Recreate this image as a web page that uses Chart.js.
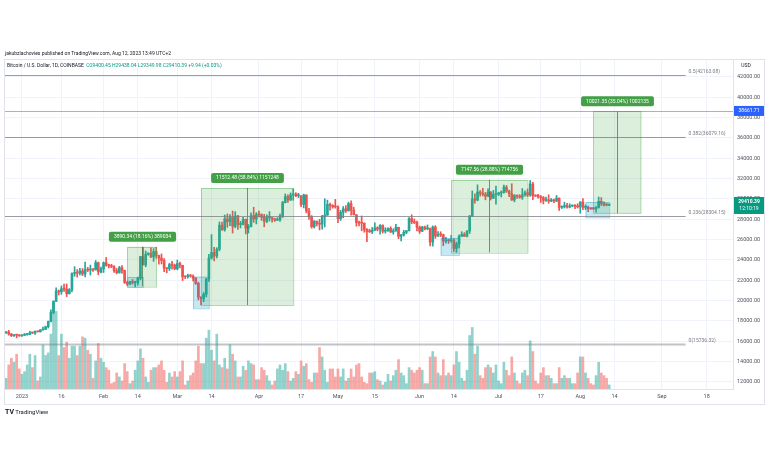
<!DOCTYPE html>
<html>
<head>
<meta charset="utf-8">
<script src="https://cdn.jsdelivr.net/npm/chart.js@4.4.0/dist/chart.umd.min.js"></script>
<style>
body{margin:0;background:#fff;}
#wrap{position:relative;width:768px;height:463px;font-family:Roboto,"Open Sans",sans-serif;color:#131722;}
#wrap canvas{position:absolute;left:0;top:0;}
.txt{position:absolute;white-space:nowrap;font-size:5px;line-height:6px;}
</style>
</head>
<body>
<div id="wrap">
	<canvas id="btcChart" width="768" height="463"></canvas>
	<div class="txt" style="left:5px;top:50px;">jakubzlachovies published on TradingView.com, Aug 12, 2023 13:49 UTC+2</div>
	<div class="txt" style="left:7px;top:62px;">Bitcoin / U.S. Dollar, 1D, COINBASE &nbsp;<span style="color:#089981">O29400.45 H29438.04 L29349.98 C29410.39 +9.94 (+0.03%)</span></div>
	<div class="txt" style="left:5px;top:408px;font-size:6px;line-height:7px;"><b style="font-size:7px;">TV</b> TradingView</div>
</div>
<script>
"use strict";

// day 0 = Jan 1 2023, first candle is Dec 26 2022
var firstDay = -6;

var opens = [
	16840,16920,16710,16550,16640,16610,
	16540,16610,16670,16670,16850,16830,16950,16940,17120,17180,17440,17940,18850,19930,20950,20870,21170,21130,20680,21070,22670,22780,22710,22920,22630,23060,23010,23080,23030,23740,22830,
	23130,23730,23490,23430,23330,22940,22760,23250,22960,21800,21630,21860,21780,21780,22200,24330,23520,24570,24640,24300,24840,24440,24190,23950,23190,23160,23560,23490,
	23140,23650,23480,22360,22350,22430,22410,22200,21710,20360,20190,20630,22140,24200,24740,24380,25060,27420,26970,28040,27770,28170,27310,28330,27490,27490,28000,27140,27270,28360,28030,
	28480,28450,28200,27800,28170,28170,28040,27920,27950,28330,29650,30240,29890,30400,30490,30320,30320,29450,30400,28820,28250,27270,27820,27590,27520,28310,28420,29470,29340,29240,
	29230,28070,28680,29030,28850,29540,28900,28450,27690,27630,27620,26990,26800,26780,26930,27170,27030,27400,26830,26890,27120,26750,26850,27220,26330,26470,26720,26870,28080,27750,27700,
	27220,26820,27250,27070,27120,25760,27240,26350,26500,26480,25850,25940,25900,25920,25130,25590,26340,26520,26340,26840,28310,30000,29890,30690,30550,30470,30270,30690,30080,30450,
	30470,30590,30620,31160,30770,30510,29900,30350,30290,30170,30410,30620,30390,31470,30310,30290,30240,30140,29860,29910,29800,29910,29800,30080,29180,29230,29350,29210,29310,29350,29280,
	29230,29700,29180,29180,29070,29050,29040,29180,29770,29570,29430,29400.45
];
var highs = [
	16950,17090,16780,16660,16650,16650,
	16630,16760,16780,17000,16880,17040,16970,17170,17400,17490,18000,19100,19990,21260,21050,21450,21620,21650,21190,22740,23340,23060,23170,23160,23800,23270,23500,23160,23950,23800,23310,
	23810,24250,23590,23580,23440,23160,23370,23450,23010,21920,21900,22090,21890,22320,24370,25250,24890,24720,25200,25120,25250,24480,24600,24140,23220,23680,23880,23600,
	23990,23790,23480,22410,22620,22580,22540,22270,21820,20370,20800,22180,24560,26500,25240,25210,27740,27720,28420,28530,28470,28820,28750,28390,27800,28200,28030,27490,28650,29190,28660,
	28820,28540,28490,28450,28760,28190,28110,28170,28520,29770,30500,30410,30600,31000,30620,30560,30320,30480,30410,29090,28370,27880,27830,28000,28390,30020,29890,29600,29440,29960,
	29330,28880,29260,29360,29680,29830,29190,28470,27820,28330,27650,27080,27030,27200,27660,27270,27480,27470,27180,27160,27280,27060,27500,27220,26530,26930,26900,28180,28450,28040,27840,
	27350,27310,27330,27450,27130,27350,27380,26800,26780,26540,26220,26020,26420,26070,25750,26480,26780,26690,26900,28400,30800,30500,31390,30820,31050,30650,31000,30710,30840,31280,
	30660,30790,31380,31330,30880,31500,30440,30380,30430,31030,30800,30980,31820,31640,30400,30450,30340,30240,30190,30410,30050,29990,30350,30110,29330,29690,29580,29530,29410,29450,29530,
	29740,30050,29410,29310,29110,29170,29250,30200,30140,29710,29540,29438.04
];
var lows = [
	16780,16600,16470,16490,16340,16490,
	16490,16550,16600,16650,16750,16670,16910,16910,17100,17150,17310,17900,18720,19900,20560,20630,20900,20400,20660,20870,22400,22320,22520,22460,22330,22860,22520,22880,23010,22540,22720,
	22770,23380,23220,23240,22780,22630,22700,22680,21690,21480,21600,21630,21350,21540,22050,23510,23330,24460,24240,23860,24160,23600,23610,22850,22740,22960,23100,23040,
	23030,23210,21980,22170,22220,22320,21940,21600,20070,19570,19900,20370,21900,24080,23900,24200,24900,26900,26830,27220,27380,26650,27160,27000,27150,27440,26560,26650,27250,27700,27550,
	28240,27890,27270,27670,27830,27720,27790,27880,27800,28170,29610,29670,29870,29880,30230,30140,29250,29120,28640,28000,27130,27140,27350,26960,27030,27250,28380,28900,29100,29100,
	27680,27890,28150,28670,28800,28400,28430,27330,27360,26870,26730,25810,26700,26600,26880,26860,26550,26650,26640,26820,26700,26540,26830,26100,25870,26350,26580,26850,27560,27570,26850,
	26610,26800,26960,26970,25390,25360,26130,26310,26300,25410,25650,25630,25740,24850,24750,25180,26300,26290,26260,26600,28270,29580,29820,30270,30290,29920,30230,29900,30050,29500,
	30330,30200,30570,30650,30220,29860,29720,30050,30070,29960,30290,30220,30260,29940,30250,30070,29660,29520,29760,29580,29730,29640,29740,28870,29060,29110,29090,29130,29260,29040,29110,
	28600,28950,28970,28750,28970,28950,28700,29110,29350,29330,29330,29349.98
];
var closes = [
	16920,16710,16550,16640,16610,16540,
	16610,16670,16670,16850,16830,16950,16940,17120,17180,17440,17940,18850,19930,20950,20870,21170,21130,20680,21070,22670,22780,22710,22920,22630,23060,23010,23080,23030,23740,22830,23130,
	23730,23490,23430,23330,22940,22760,23250,22960,21800,21630,21860,21780,21780,22200,24330,23520,24570,24640,24300,24840,24440,24190,23950,23190,23160,23560,23490,23140,
	23650,23480,22360,22350,22430,22410,22200,21710,20360,20190,20630,22140,24200,24740,24380,25060,27420,26970,28040,27770,28170,27310,28330,27490,27490,28000,27140,27270,28360,28030,28480,
	28450,28200,27800,28170,28170,28040,27920,27950,28330,29650,30240,29890,30400,30490,30320,30320,29450,30400,28820,28250,27270,27820,27590,27520,28310,28420,29470,29340,29240,29230,
	28070,28680,29030,28850,29540,28900,28450,27690,27630,27620,26990,26800,26780,26930,27170,27030,27400,26830,26890,27120,26750,26850,27220,26330,26470,26720,26870,28080,27750,27700,27220,
	26820,27250,27070,27120,25760,27240,26350,26500,26480,25850,25940,25900,25920,25130,25590,26340,26520,26340,26840,28310,30000,29890,30690,30550,30470,30270,30690,30080,30450,30470,
	30590,30620,31160,30770,30510,29900,30350,30290,30170,30410,30620,30390,31470,30310,30290,30240,30140,29860,29910,29800,29910,29800,30080,29180,29230,29350,29210,29310,29350,29280,29230,
	29700,29180,29180,29070,29050,29040,29180,29770,29570,29430,29400,29410.39
];
// volume in thousand BTC
var volumes = [
	8,18,23,20,26,15,
	11,13,18,26,16,25,6,9,33,25,
	27,41,65,58,25,41,31,35,23,32,
	32,25,32,39,38,29,26,8,21,34,
	23,20,16,14,4,5,12,9,6,19,
	13,4,6,14,21,30,23,9,5,14,
	16,16,18,21,14,5,12,9,13,9,
	13,21,3,6,10,12,
	21,32,19,19,38,44,29,21,41,18,
	16,23,15,33,26,21,9,9,17,14,
	21,19,18,7,7,16,14,10,6,3,
	6,15,18,14,19,13,6,8,13,11,
	21,17,19,7,5,12,12,31,24,14,
	5,15,15,9,15,9,15,6,8,15,
	9,18,19,9,5,4,12,12,13,7,
	6,3,5,11,
	6,10,14,22,12,10,4,16,14,12,
	14,16,14,4,4,24,28,24,12,10,
	22,10,12,10,18,28,20,8,6,14,
	40,46,26,32,10,8,16,18,16,12,
	18,6,4,20,14,10,24,12,6,4,
	12,14,10,36,28,6,4,12,16,10,
	10,8,4,4,16,8,10,8,8,4,
	4,12,24,24,12,8,4,3,10,20,
	12,10,8,3
];

var tickDays = [0,15,31,44,59,72,90,106,120,134,151,164,181,197,212,225,243,260];
var tickLabels = ['2023','16','Feb','14','Mar','14','Apr','17','May','15','Jun','14','Jul','17','Aug','14','Sep','18'];
var priceTicks = [12000,14000,16000,18000,20000,22000,24000,26000,28000,30000,32000,34000,36000,38000,40000,42000];

var fibLevels = ['0','0.236','0.382','0.5'];
var fibPrices = [15736.32,28304.15,36079.16,42163.08];

// date & price range drawings
var rangeStart = [40,68,163,217];
var rangeEnd = [51,103,192,235];
var rangeLow = [21422,19565,24749,28600];
var rangeHigh = [25312.34,31077.48,31896.56,38621.35];
var rangeLabels = ['3890.34 (18.16%) 389034','11512.48 (58.84%) 1151248','7147.56 (28.88%) 714756','10021.35 (35.04%) 1002135'];

// small highlighted rectangles
var markStart = [40,65,159,214];
var markEnd = [46,71,166,223];
var markLow = [21350,19250,24490,28200];
var markHigh = [22330,22360,26160,29700];

var alertPrice = 38661.71;
var lastPrice = 29410.39;
var countdown = '12:10:19';

var UP = '#26a69a', DOWN = '#ef5350';
var FONT = 'Roboto, "Open Sans", sans-serif';

var bodies = [], wicks = [], vols = [], candleColors = [], volColors = [];
for (var i = 0; i < closes.length; i++) {
	var d = firstDay + i;
	var up = closes[i] >= opens[i];
	bodies.push({x: d, y: [opens[i], closes[i]]});
	wicks.push({x: d, y: [lows[i], highs[i]]});
	vols.push({x: d, y: volumes[i]});
	candleColors.push(up ? UP : DOWN);
	volColors.push(up ? 'rgba(38,166,154,0.5)' : 'rgba(239,83,80,0.5)');
}

var drawingsPlugin = {
	id: 'drawings',
	afterDatasetsDraw: function (chart) {
		var ctx = chart.ctx, xs = chart.scales.x, ys = chart.scales.y, a = chart.chartArea;
		ctx.save();
		ctx.beginPath();
		ctx.rect(a.left, a.top, a.right - a.left, a.bottom - a.top);
		ctx.clip();

		// blue marks
		for (var i = 0; i < markStart.length; i++) {
			var x1 = xs.getPixelForValue(markStart[i]), x2 = xs.getPixelForValue(markEnd[i]);
			var y1 = ys.getPixelForValue(markHigh[i]), y2 = ys.getPixelForValue(markLow[i]);
			ctx.fillStyle = 'rgba(0,151,200,0.22)';
			ctx.fillRect(x1, y1, x2 - x1, y2 - y1);
			ctx.strokeStyle = 'rgba(0,151,200,0.35)';
			ctx.lineWidth = 1;
			ctx.strokeRect(x1 + 0.5, y1 + 0.5, x2 - x1, y2 - y1);
		}

		// green ranges
		ctx.font = '5px ' + FONT;
		ctx.textAlign = 'center';
		ctx.textBaseline = 'middle';
		for (var j = 0; j < rangeStart.length; j++) {
			var rx1 = xs.getPixelForValue(rangeStart[j]), rx2 = xs.getPixelForValue(rangeEnd[j]);
			var ry1 = ys.getPixelForValue(rangeHigh[j]), ry2 = ys.getPixelForValue(rangeLow[j]);
			ctx.fillStyle = 'rgba(76,175,80,0.2)';
			ctx.fillRect(rx1, ry1, rx2 - rx1, ry2 - ry1);
			ctx.strokeStyle = 'rgba(76,175,80,0.45)';
			ctx.lineWidth = 1;
			ctx.strokeRect(Math.round(rx1) + 0.5, Math.round(ry1) + 0.5, rx2 - rx1, ry2 - ry1);
			var cx = Math.round((rx1 + rx2) / 2) + 0.5;
			ctx.strokeStyle = 'rgba(60,110,70,0.7)';
			ctx.beginPath();
			ctx.moveTo(cx, ry1);
			ctx.lineTo(cx, ry2);
			ctx.stroke();

			var tw = ctx.measureText(rangeLabels[j]).width + 10;
			ctx.fillStyle = '#43a047';
			ctx.beginPath();
			ctx.roundRect(cx - tw / 2, ry1 - 15, tw, 10, 2);
			ctx.fill();
			ctx.fillStyle = '#fff';
			ctx.fillText(rangeLabels[j], cx, ry1 - 10);
		}
		ctx.restore();

		// fib levels
		ctx.save();
		var fibEnd = xs.getPixelForValue(252);
		ctx.font = '5px ' + FONT;
		ctx.textAlign = 'left';
		ctx.textBaseline = 'middle';
		for (var k = 0; k < fibPrices.length; k++) {
			var fy = Math.round(ys.getPixelForValue(fibPrices[k])) + 0.5;
			ctx.strokeStyle = k == 0 ? 'rgba(120,123,134,0.45)' : 'rgba(120,123,134,0.75)';
			ctx.lineWidth = k == 0 ? 2 : 1;
			ctx.beginPath();
			ctx.moveTo(a.left, fy);
			ctx.lineTo(fibEnd, fy);
			ctx.stroke();
			ctx.fillStyle = '#787b86';
			ctx.fillText(fibLevels[k] + '(' + fibPrices[k].toFixed(2) + ')', fibEnd + 3, fy - 4);
		}

		// alert line
		var ay = Math.round(ys.getPixelForValue(alertPrice)) + 0.5;
		ctx.strokeStyle = 'rgba(41,98,255,0.5)';
		ctx.lineWidth = 1;
		ctx.beginPath();
		ctx.moveTo(a.left, ay);
		ctx.lineTo(a.right, ay);
		ctx.stroke();
		ctx.restore();
	},
	afterDraw: function (chart) {
		var ctx = chart.ctx, ys = chart.scales.y, a = chart.chartArea;
		ctx.save();
		ctx.font = '5px ' + FONT;
		ctx.textAlign = 'center';
		ctx.textBaseline = 'middle';

		// price tags on axis
		var ay = ys.getPixelForValue(alertPrice);
		ctx.fillStyle = '#2962ff';
		ctx.fillRect(a.right + 1, ay - 5, 30, 10);
		ctx.fillStyle = '#fff';
		ctx.fillText(alertPrice.toFixed(2), a.right + 16, ay);

		var ly = ys.getPixelForValue(lastPrice);
		ctx.fillStyle = '#089981';
		ctx.fillRect(a.right + 1, ly - 8, 30, 17);
		ctx.fillStyle = '#fff';
		ctx.font = 'bold 5px ' + FONT;
		ctx.fillText(lastPrice.toFixed(2), a.right + 16, ly - 3.5);
		ctx.font = '5px ' + FONT;
		ctx.fillText(countdown, a.right + 16, ly + 4);

		ctx.fillStyle = '#131722';
		ctx.fillText('USD', a.right + 13, a.top + 6);

		// outer frame
		ctx.strokeStyle = '#e0e3eb';
		ctx.lineWidth = 1;
		ctx.strokeRect(4.5, a.top - 0.5, 760, 345);
		ctx.restore();
	}
};

var btcChart = new Chart('btcChart', {
	type: 'bar',
	data: {
		datasets: [{
			data: bodies,
			backgroundColor: candleColors,
			barThickness: 2,
			minBarLength: 1,
			grouped: false,
			yAxisID: 'y'
		}, {
			data: wicks,
			backgroundColor: candleColors,
			barThickness: 1,
			grouped: false,
			yAxisID: 'y'
		}, {
			data: vols,
			backgroundColor: volColors,
			barThickness: 2,
			grouped: false,
			yAxisID: 'vol'
		}]
	},
	options: {
		responsive: false,
		animation: false,
		devicePixelRatio: 1,
		layout: {
			padding: {top: 60, left: 4, right: 3, bottom: 58}
		},
		plugins: {
			legend: {display: false},
			tooltip: {enabled: false}
		},
		scales: {
			x: {
				type: 'linear',
				min: -6.8,
				max: 270,
				offset: false,
				afterFit: function (s) { s.height = 16; },
				afterBuildTicks: function (s) {
					s.ticks = tickDays.map(function (v) { return {value: v}; });
				},
				grid: {color: '#f0f3fa', drawTicks: false, offset: false},
				border: {color: '#e0e3eb'},
				ticks: {
					autoSkip: false,
					maxRotation: 0,
					padding: 4,
					color: '#50535e',
					font: {size: 5.5, family: FONT},
					callback: function (v, idx) { return tickLabels[idx]; }
				}
			},
			y: {
				position: 'right',
				min: 11311,
				max: 43672,
				afterFit: function (s) { s.width = 32; },
				afterBuildTicks: function (s) {
					s.ticks = priceTicks.map(function (v) { return {value: v}; });
				},
				grid: {color: '#f0f3fa', drawTicks: false},
				border: {color: '#e0e3eb'},
				ticks: {
					padding: 4,
					color: '#50535e',
					font: {size: 5.5, family: FONT},
					callback: function (v) { return Number(v).toFixed(2); }
				}
			},
			vol: {
				display: false,
				min: 0,
				max: 246
			}
		}
	},
	plugins: [drawingsPlugin]
});
</script>
</body>
</html>
